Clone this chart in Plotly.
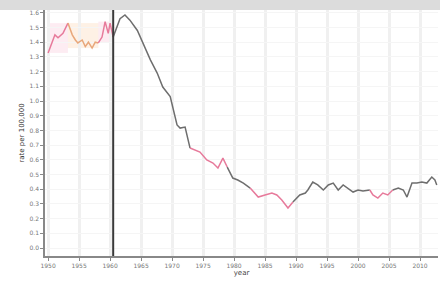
import plotly.graph_objects as go

# traced data (year, rate per 100,000)
years = [1950.0, 1951.1, 1951.6, 1952.4, 1953.2, 1953.9, 1954.4, 1954.8, 1955.5, 1956.0,
         1956.5, 1957.1, 1957.6, 1958.1, 1958.7, 1959.2, 1959.7, 1960.0, 1960.5, 1961.1,
         1961.6, 1962.4, 1963.2, 1964.4, 1965.3, 1966.5, 1967.6, 1968.5, 1969.7, 1970.2,
         1970.8, 1971.3, 1972.1, 1972.9, 1973.7, 1974.5, 1975.6, 1976.6, 1977.4, 1978.2,
         1978.9, 1979.8, 1980.6, 1981.5, 1982.6, 1983.9, 1985.0, 1986.1, 1986.9, 1987.7,
         1988.7, 1989.5, 1990.6, 1991.5, 1991.9, 1992.7, 1993.5, 1994.4, 1995.2, 1996.0,
         1996.8, 1997.6, 1998.4, 1999.2, 2000.0, 2000.8, 2001.9, 2002.4, 2003.2, 2004.0,
         2004.8, 2005.6, 2006.5, 2007.3, 2007.9, 2008.7, 2009.5, 2010.3, 2011.1, 2011.9,
         2012.4, 2012.7]
rates = [13.27, 14.5, 14.3, 14.6, 15.3, 14.5, 14.15, 13.95, 14.15, 13.7,
         14.0, 13.6, 14.0, 13.95, 14.35, 15.4, 14.6, 15.3, 14.35, 15.0,
         15.6, 15.85, 15.5, 14.8, 13.95, 12.8, 11.9, 10.95, 10.3, 9.39,
         8.37, 8.16, 8.23, 6.8, 6.67, 6.53, 5.99, 5.78, 5.44, 6.12,
         5.51, 4.76, 4.63, 4.42, 4.08, 3.47, 3.61, 3.74, 3.61, 3.27,
         2.72, 3.13, 3.61, 3.74, 3.95, 4.49, 4.29, 3.95, 4.29, 4.42,
         3.95, 4.29, 4.08, 3.81, 3.95, 3.88, 3.95, 3.61, 3.40, 3.74,
         3.61, 3.95, 4.08, 3.95, 3.47, 4.42, 4.42, 4.49, 4.42, 4.83,
         4.63, 4.29]

period_starts = [1950.0, 1953.2, 1958.1, 1960.5, 1972.9, 1978.9, 1982.6, 1989.5, 2001.9, 2005.6]
period_ends = [1953.2, 1958.1, 1960.5, 1972.9, 1978.9, 1982.6, 1989.5, 2001.9, 2005.6, 2012.7]
period_kind = ["pink", "orange", "pink", "gray", "pink", "gray", "pink", "gray", "pink", "gray"]

marker_year = 1960.5
x_ticks = [1950, 1955, 1960, 1965, 1970, 1975, 1980, 1985, 1990, 1995, 2000, 2005, 2010]
y_ticks = [i for i in range(17)]
y_labels = ["%.1f" % (v / 10) for v in y_ticks]

line_col = {"pink": "#e77a9b", "orange": "#e8a77a", "gray": "#6e6e6e"}
fill_col = {"pink": "rgba(245,170,195,0.22)", "orange": "rgba(250,200,150,0.25)"}

fig = go.Figure()
shapes = []
for s, e, k in zip(period_starts, period_ends, period_kind):
    xs = [x for x in years if s <= x <= e]
    ys = [y for x, y in zip(years, rates) if s <= x <= e]
    fig.add_trace(go.Scatter(x=xs, y=ys, mode="lines",
                             line=dict(color=line_col[k], width=1.5),
                             showlegend=False, hoverinfo="skip"))
    if k in fill_col and xs[0] < 1962:
        shapes.append(dict(type="rect", xref="x", yref="y", x0=xs[0], x1=xs[-1],
                           y0=min(ys), y1=max(ys), fillcolor=fill_col[k],
                           line=dict(width=0), layer="below"))

shapes.append(dict(type="line", xref="x", yref="paper", x0=marker_year, x1=marker_year,
                   y0=0, y1=1, line=dict(color="#3a3a3a", width=2)))
shapes.append(dict(type="rect", xref="paper", yref="paper", x0=-0.2, x1=1.05,
                   y0=1.0, y1=1.045, fillcolor="#dcdcdc", line=dict(width=0)))

fig.update_layout(
    width=440, height=287,
    margin=dict(l=45, r=2, t=10, b=31),
    paper_bgcolor="white", plot_bgcolor="white",
    shapes=shapes,
    font=dict(family="DejaVu Sans", color="#555"),
    xaxis=dict(range=[1949.5, 2012.9], tickvals=x_ticks, ticktext=[str(v) for v in x_ticks],
               tickfont=dict(size=6, color="#777"), showgrid=True, automargin=False,
               gridcolor="#f0f0f0", gridwidth=3, showline=True, linecolor="#888",
               linewidth=1.5, ticks="outside", ticklen=3, tickcolor="#888",
               title=dict(text="year", font=dict(size=7, color="#444"), standoff=2),
               zeroline=False),
    yaxis=dict(range=[-0.54, 16.19], tickvals=y_ticks, ticktext=y_labels,
               tickfont=dict(size=6, color="#777"), showgrid=True, automargin=False,
               gridcolor="#f5f5f5", gridwidth=1, showline=True, linecolor="#888",
               linewidth=1.5, ticks="outside", ticklen=3, tickcolor="#888",
               title=dict(text="rate per 100,000", font=dict(size=7, color="#333"), standoff=4),
               zeroline=False),
)

fig.write_html("out.html", config={"displayModeBar": False},
               post_script="document.body.style.margin='0';document.body.style.overflow='hidden';")
